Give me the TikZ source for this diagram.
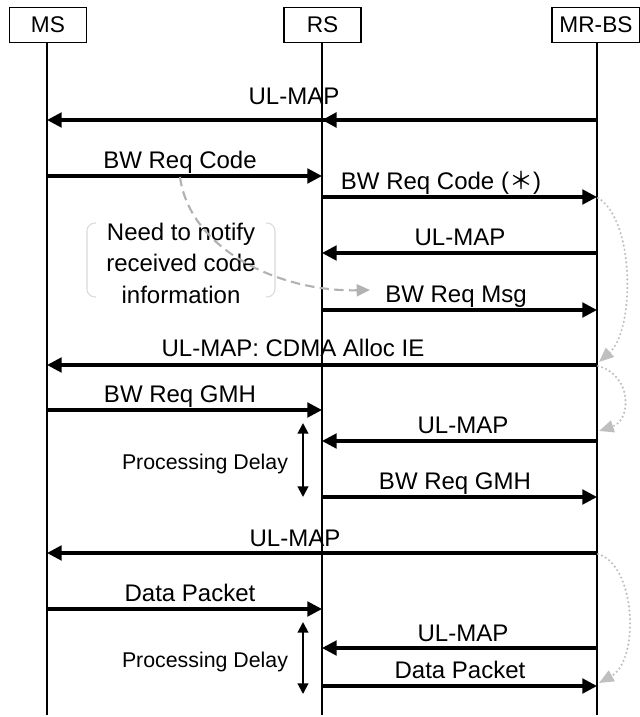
\documentclass[tikz,border=0pt]{standalone}
\usepackage{fontspec}
\setmainfont{Liberation Sans}
\newfontfamily\cjkfont{Noto Sans CJK JP}
\usetikzlibrary{arrows.meta}
\begin{document}
\begin{tikzpicture}[x=0.75pt,y=-0.75pt,
  head/.style={draw,line width=1pt,minimum height=26pt,inner sep=0pt,font=\fontsize{17}{20}\selectfont},
  life/.style={line width=1.5pt},
  msg/.style={line width=2.3pt,-{Triangle[length=11pt,width=11pt]}},
  lbl/.style={inner sep=0pt,anchor=base,font=\fontsize{18}{22}\selectfont},
  small/.style={inner sep=0pt,anchor=base,font=\fontsize{16}{20}\selectfont},
  notetxt/.style={inner sep=0pt,align=center,font=\fontsize{18}{23.6}\selectfont},
  bracket/.style={draw=black!15,line width=0.8pt,rounded corners=6pt},
  notearrow/.style={draw=black!30,line width=1.6pt,dash pattern=on 7pt off 4pt,-{Triangle[length=10pt,width=9pt,fill=black!30]}},
  loopback/.style={draw=black!25,line width=1.8pt,line cap=round,dash pattern=on 0pt off 3.2pt,-{Triangle[length=11pt,width=9pt,fill=black!25,line cap=butt]}},
  delay/.style={line width=1.5pt,{Triangle[length=8pt,width=8pt]}-{Triangle[length=8pt,width=8pt]}}
]
\useasboundingbox (0,0) rectangle (639,717);
% heads
\node[head,minimum width=57.75pt] (ms) at (48,25) {MS};
\node[head,minimum width=57.75pt] (rs) at (322.5,25) {RS};
\node[head,minimum width=66pt] (bs) at (596,25) {MR-BS};
% lifeline ends
\coordinate (msend) at (47,715);
\coordinate (rsend) at (322,715);
\coordinate (bsend) at (597,715);
\draw[life] (ms.south -| msend) -- (msend);
\draw[life] (rs.south -| rsend) -- (rsend);
\draw[life] (bs.south -| bsend) -- (bsend);
% rows
\foreach \n/\y in {1/120,2/176,3/197,4/253,5/310,6/365,7/410,8/441,9/497,10/553,11/609,12/648,13/686}{
  \coordinate (A\n) at (47,\y);
  \coordinate (B\n) at (322,\y);
  \coordinate (C\n) at (597,\y);
}
% messages
\draw[msg] (C1) -- (A1);
\draw[msg,line width=2.9pt] (C1) -- (B1);
\draw[msg] (A2) -- (B2);
\draw[msg] (B3) -- (C3);
\draw[msg] (C4) -- (B4);
\draw[msg] (B5) -- (C5);
\draw[msg] (C6) -- (A6);
\draw[msg] (A7) -- (B7);
\draw[msg] (C8) -- (B8);
\draw[msg] (B9) -- (C9);
\draw[msg] (C10) -- (A10);
\draw[msg] (A11) -- (B11);
\draw[msg] (C12) -- (B12);
\draw[msg] (B13) -- (C13);
% labels
\node[lbl] (l1) at (294,104) {UL-MAP};
\node[lbl] (l2) at (180,168) {BW Req Code};
\node[lbl] (l3) at (441,189) {BW Req Code ({\cjkfont ＊})};
\node[lbl] (l4) at (460,245) {UL-MAP};
\node[lbl] (l5) at (456,302) {BW Req Msg};
\node[lbl] (l6) at (293,356) {UL-MAP: CDMA Alloc IE};
\node[lbl] (l7) at (180,402) {BW Req GMH};
\node[lbl] (l8) at (463,433) {UL-MAP};
\node[lbl] (l9) at (455,489) {BW Req GMH};
\node[lbl] (l10) at (295,546) {UL-MAP};
\node[lbl] (l11) at (190,601) {Data Packet};
\node[lbl] (l12) at (463,641) {UL-MAP};
\node[lbl] (l13) at (460,678) {Data Packet};
% processing delays
\coordinate (d1t) at (303,423);
\coordinate (d1b) at (303,497);
\coordinate (d2t) at (303,622);
\coordinate (d2b) at (303,694);
\draw[delay] (d1t) -- (d1b);
\draw[delay] (d2t) -- (d2b);
\node[small] (p1) at (205,469) {Processing Delay};
\node[small] (p2) at (205,667) {Processing Delay};
% note
\draw[bracket] (96,223) -| (87,297) -- (96,297);
\draw[bracket] (266,223) -| (275,297) -- (266,297);
\node[notetxt] (note) at (181,263) {Need to notify\\received code\\information};
\coordinate (nS) at (180,177);
\coordinate (nE) at (370,290);
\draw[notearrow] (nS) .. controls (190,250) and (280,292) .. (nE);
% loopbacks
\coordinate (a1) at (598,198);
\coordinate (a2) at (599,362);
\coordinate (b1) at (598,366);
\coordinate (b2) at (599,431);
\coordinate (c1) at (598,554);
\coordinate (c2) at (599,683);
\draw[loopback] (a1) .. controls (635,220) and (635,330) .. (a2);
\draw[loopback] (b1) .. controls (632,375) and (632,420) .. (b2);
\draw[loopback] (c1) .. controls (636,565) and (640,660) .. (c2);
\end{tikzpicture}
\end{document}
